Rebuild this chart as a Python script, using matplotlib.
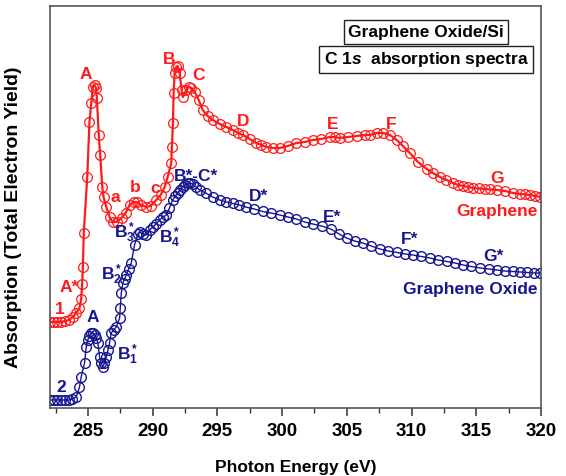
import matplotlib
matplotlib.use("Agg")
import matplotlib.pyplot as plt
from matplotlib.ticker import MultipleLocator

plt.rcParams['font.family'] = ['Liberation Sans', 'DejaVu Sans']
plt.rcParams['font.weight'] = 'bold'
plt.rcParams['mathtext.fontset'] = 'custom'
plt.rcParams['mathtext.rm'] = 'Liberation Sans:bold'
plt.rcParams['mathtext.bf'] = 'Liberation Sans:bold'
plt.rcParams['mathtext.it'] = 'Liberation Sans:italic:bold'
plt.rcParams['mathtext.default'] = 'rm'

# Graphene (red) - photon energy (eV) and yield (arb. units)
energia_grafeno = [
    282.05, 282.35, 282.65, 282.95, 283.25, 283.55, 283.85, 284.10, 284.35, 284.48,
    284.56, 284.61, 284.68, 284.95, 285.12, 285.26, 285.38, 285.51, 285.63, 285.69,
    285.84, 285.95, 286.11, 286.21, 286.42, 286.67, 286.90, 287.21, 287.60, 287.91,
    288.22, 288.53, 288.76, 289.07, 289.51, 289.84, 290.28, 290.62, 290.93, 291.16,
    291.44, 291.49, 291.57, 291.62, 291.70, 291.83, 291.93, 292.08, 292.24, 292.34,
    292.60, 292.78, 292.99, 293.25, 293.56, 293.87, 294.25, 294.64, 295.18, 295.70,
    296.18, 296.60, 296.96, 297.50, 298.02, 298.40, 298.79, 299.30, 299.82, 300.44,
    301.11, 301.75, 302.37, 302.99, 303.69, 304.10, 304.46, 305.08, 305.75, 306.39,
    306.78, 307.30, 307.81, 308.33, 308.85, 309.33, 309.87, 310.49, 311.17, 311.65,
    312.19, 312.70, 313.20, 313.60, 313.97, 314.35, 314.75, 315.20, 315.68, 316.10,
    316.58, 317.22, 317.84, 318.38, 318.80, 319.16, 319.55, 319.93]
senal_grafeno = [
    86, 86, 86, 86, 87, 88, 91, 95, 100, 109,
    124, 141, 175, 231, 286, 305, 321, 323, 320, 310,
    273, 253, 221, 211, 201, 191, 186, 186, 190, 195,
    203, 206, 206, 203, 201, 202, 208, 213, 221, 231,
    245, 261, 285, 315, 335, 341, 342, 335, 318, 311,
    318, 321, 320, 316, 308, 298, 292, 288, 284, 281,
    278, 275, 273, 269, 265, 263, 261, 260, 260, 262,
    265, 266, 268, 269, 271, 271, 270, 271, 272, 273,
    273, 275, 275, 273, 268, 262, 255, 246, 239, 235,
    231, 228, 225, 223, 222, 221, 220, 219.5, 219, 218.5,
    218, 217, 215, 214, 213.5, 213, 212, 211]

# Graphene Oxide (blue)
energia_oxido = [
    282.05, 282.35, 282.65, 282.95, 283.25, 283.55, 283.80, 284.10, 284.35, 284.48,
    284.74, 284.87, 284.99, 285.12, 285.26, 285.38, 285.51, 285.64, 285.77, 285.90,
    286.02, 286.15, 286.28, 286.42, 286.55, 286.67, 286.80, 287.00, 287.19, 287.45,
    287.50, 287.58, 287.70, 287.83, 287.96, 288.15, 288.35, 288.60, 288.86, 289.00,
    289.25, 289.50, 289.77, 290.00, 290.27, 290.54, 290.80, 291.06, 291.30, 291.54,
    291.75, 291.93, 292.12, 292.32, 292.50, 292.70, 292.90, 293.09, 293.35, 293.63,
    294.10, 294.64, 295.18, 295.70, 296.18, 296.70, 297.19, 297.85, 298.50, 299.15,
    299.82, 300.45, 301.11, 301.75, 302.37, 303.05, 303.76, 304.40, 304.98, 305.60,
    306.24, 306.90, 307.55, 308.20, 308.87, 309.50, 310.10, 310.75, 311.42, 312.05,
    312.71, 313.35, 313.97, 314.60, 315.29, 315.95, 316.60, 317.20, 317.84, 318.40,
    318.92, 319.45, 319.93]
senal_oxido = [
    8, 8, 8, 8, 8, 8, 9, 11, 21, 31,
    45, 61, 68, 72, 75, 75, 73, 70, 65, 51,
    45, 41, 45, 51, 58, 65, 75, 78, 81, 90,
    100, 115, 125, 129, 133, 139, 145, 163, 174, 176,
    174, 173, 178, 181, 184, 188, 191, 193, 200, 208,
    212, 215, 218, 221, 223, 225, 225, 224, 221, 218,
    215, 211, 208, 206, 204.5, 203, 201, 199, 196.5, 195,
    193, 191, 189, 186, 184, 182, 179, 174, 170, 167,
    165, 162, 159, 157, 155.5, 154, 153, 151.5, 150, 148,
    146.5, 145, 143, 141.5, 140, 139, 138, 137, 136.5, 136,
    135.5, 135, 135]

# peak labels: (text, energy, yield)
etiquetas_rojas = [
    ('A', 284.82, 333), ('B', 291.31, 348), ('C', 293.55, 332),
    ('a', 287.14, 210), ('b', 288.68, 220), ('c', 290.23, 219),
    ('D', 296.98, 286), ('E', 303.94, 283), ('F', 308.46, 283),
    ('G', 316.58, 229), ('Graphene', 316.58, 196),
    ('A*', 283.58, 120), ('1', 282.86, 98)]
etiquetas_azules = [
    ('A', 285.38, 90), ('2', 282.94, 20),
    ('B*-C*', 293.38, 231), ('D*', 298.14, 211), ('E*', 303.82, 190.5),
    ('F*', 309.87, 168), ('G*', 316.29, 151), ('Graphene Oxide', 314.51, 118)]
etiquetas_b = [
    (r'B$^*_1$', 287.23, 53), (r'B$^*_2$', 285.99, 133),
    (r'B$^*_3$', 286.98, 175), (r'B$^*_4$', 290.48, 170)]

rojo = '#ff1a1a'
azul = '#16168f'

fig = plt.figure(figsize=(5.66, 4.76), dpi=100)
ax = fig.add_axes([0.0883, 0.1429, 0.8675, 0.8445])

ax.plot(energia_oxido, senal_oxido, '-o', color=azul, lw=1.0, ms=7,
        mfc='none', mec=azul, mew=1.0)
ax.plot(energia_grafeno, senal_grafeno, '-o', color=rojo, lw=1.6, ms=7,
        mfc='none', mec=rojo, mew=0.9)

for txt, x, y in etiquetas_rojas:
    ax.text(x, y, txt, color=rojo, fontsize=12.5, fontweight='bold',
            ha='center', va='center')
for txt, x, y in etiquetas_azules:
    ax.text(x, y, txt, color=azul, fontsize=12.5, fontweight='bold',
            ha='center', va='center')
for txt, x, y in etiquetas_b:
    ax.text(x, y, txt, color=azul, fontsize=12.5, fontweight='bold',
            ha='left', va='center')

ax.text(0.766, 0.935, 'Graphene Oxide/Si', transform=ax.transAxes,
        fontsize=12.5, fontweight='bold', ha='center', va='center',
        bbox=dict(boxstyle='square,pad=0.25', fc='white', ec='#222222', lw=1))
ax.text(0.766, 0.867, r'C 1$\mathit{s}$  absorption spectra', transform=ax.transAxes,
        fontsize=12.5, fontweight='bold', ha='center', va='center',
        bbox=dict(boxstyle='square,pad=0.25', fc='white', ec='#222222', lw=1))

ax.set_xlim(282.07, 320.0)
ax.set_ylim(0, 402)
ax.xaxis.set_major_locator(MultipleLocator(5))
ax.xaxis.set_minor_locator(MultipleLocator(2.5))
ax.tick_params(axis='x', which='major', direction='out', length=6, width=1.1,
               labelsize=13.5, pad=5, color='#333333')
ax.tick_params(axis='x', which='minor', direction='out', length=3.5, width=1.0,
               color='#333333')
ax.tick_params(axis='y', left=False, labelleft=False)
for lbl in ax.get_xticklabels():
    lbl.set_fontweight('bold')

for s in ax.spines.values():
    s.set_color('#555555')
    s.set_linewidth(1.2)

ax.set_xlabel('Photon Energy (eV)', fontsize=12.5, fontweight='bold')
ax.set_ylabel('Absorption (Total Electron Yield)', fontsize=14, fontweight='bold')
ax.xaxis.set_label_coords(0.5, -0.13)
ax.yaxis.set_label_coords(-0.057, 0.475)

fig.savefig('out.png', dpi=100)
